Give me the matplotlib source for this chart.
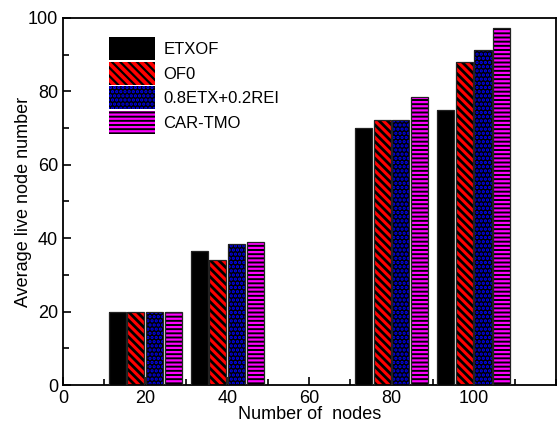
import matplotlib
matplotlib.use("Agg")
import matplotlib.pyplot as plt
from matplotlib.ticker import MultipleLocator
from matplotlib.patches import Rectangle
import numpy as np

plt.rcParams['font.family'] = ['Liberation Sans', 'DejaVu Sans']

nodes = [20, 40, 80, 100]
series = ["ETXOF", "OF0", "0.8ETX+0.2REI", "CAR-TMO"]
etxof = [20, 36.5, 70, 75]
of0 = [20, 34, 72.2, 88]
etx_rei = [20, 38.5, 72.2, 91.2]
car_tmo = [20, 39, 78.4, 97.3]

values = [etxof, of0, etx_rei, car_tmo]
# (face colour, hatch colour, hatch pattern, hatch line width)
styles = [
    ("black", "black", None, 1.0),
    ("red", "black", "\\\\\\\\", 2.0),
    ("black", "blue", "....", 1.6),
    ("black", "magenta", "----", 1.6),
]

fig = plt.figure(figsize=(5.58, 4.25), dpi=100)
ax = fig.add_axes([0.113, 0.094, 0.883, 0.864])

step = 4.55
width = 4.15
offsets = np.array([-1.5, -0.5, 0.5, 1.5]) * step
x = np.array(nodes, dtype=float)
for i, vals in enumerate(values):
    face, hcol, hatch, hlw = styles[i]
    plt.rcParams['hatch.linewidth'] = hlw
    ax.bar(x + offsets[i], vals, width=width, color=face,
           edgecolor=hcol, hatch=hatch, linewidth=0, zorder=2)
    ax.bar(x + offsets[i], vals, width=width, fill=False,
           edgecolor="#222222", linewidth=0.9, zorder=3)

# legend swatches with the same fills
proxies = []
for face, hcol, hatch, hlw in styles:
    plt.rcParams['hatch.linewidth'] = hlw
    proxies.append(Rectangle((0, 0), 1, 1, facecolor=face, edgecolor=hcol,
                             hatch=hatch, linewidth=0))

ax.set_xlim(0, 120)
ax.set_ylim(0, 100)
ax.xaxis.set_minor_locator(MultipleLocator(10))
ax.yaxis.set_major_locator(MultipleLocator(20))
ax.yaxis.set_minor_locator(MultipleLocator(10))
ax.set_xticks([0, 20, 40, 60, 80, 100])
ax.tick_params(which="both", direction="in", top=False, right=False,
               labelsize=13, width=1.2)
ax.tick_params(which="major", length=6)
ax.tick_params(which="minor", length=4)
for s in ax.spines.values():
    s.set_linewidth(1.3)

ax.set_xlabel("Number of  nodes", fontsize=13, labelpad=-1)
ax.set_ylabel("Average live node number", fontsize=13, labelpad=-3)

ax.legend(proxies, series, loc="upper left",
          bbox_to_anchor=(109 / 558, 1 - 37 / 425),
          bbox_transform=fig.transFigure, frameon=False,
          fontsize=12, handlelength=2.75, handleheight=1.75,
          handletextpad=0.5, labelspacing=0.1, borderaxespad=0,
          borderpad=0)

fig.savefig("out.png", dpi=100)
